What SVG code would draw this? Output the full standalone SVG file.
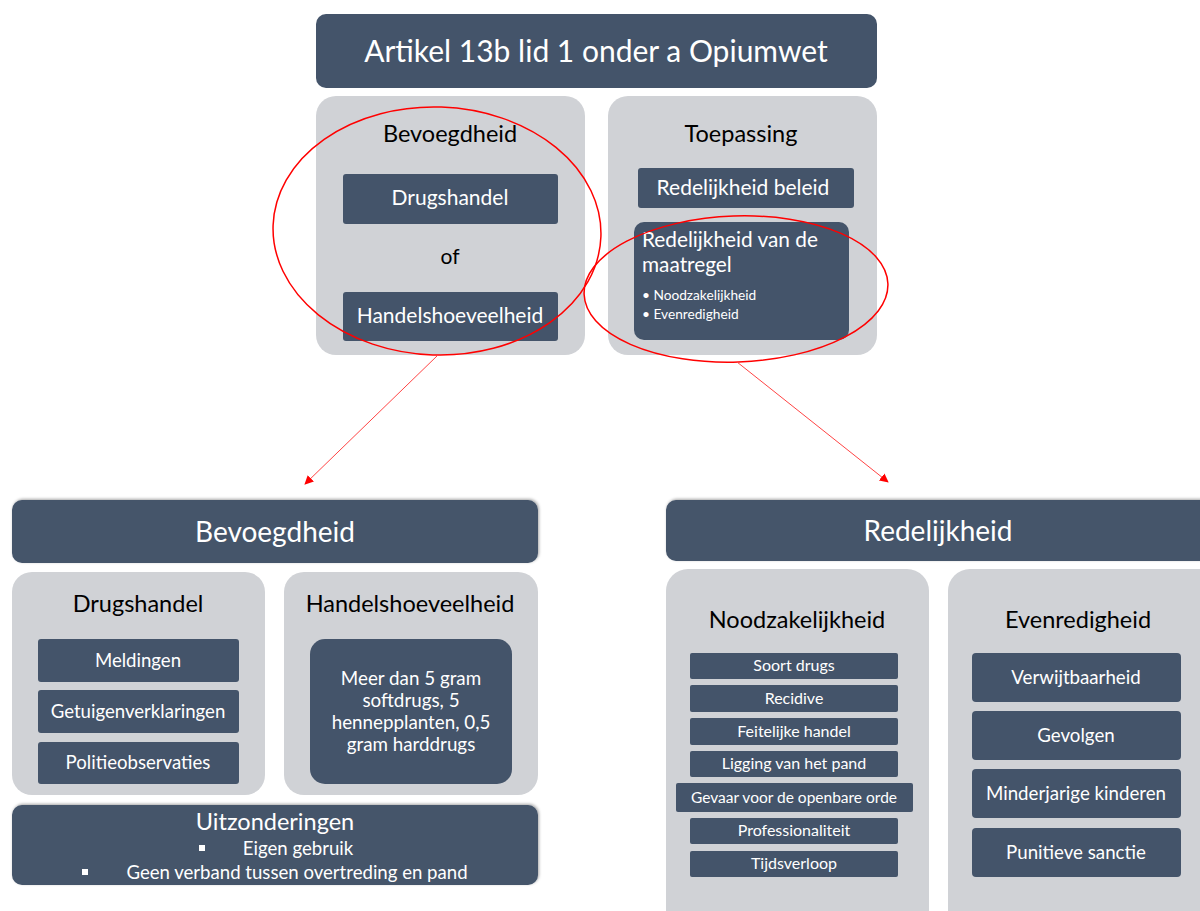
<svg xmlns="http://www.w3.org/2000/svg" width="1200" height="911" viewBox="0 0 1200 911">
<defs>
<style>
.dk{fill:#44546A}
.gr{fill:#D0D2D6}
.t{font-family:Lato,"Open Sans","Liberation Sans",sans-serif;text-anchor:middle}
.l{font-family:Lato,"Open Sans","Liberation Sans",sans-serif}
.w{fill:#FFFFFF}
.b{fill:#000000}
.ell{fill:none;stroke:#FF0000;stroke-width:1.5}
.arr{fill:none;stroke:#FF4444;stroke-width:1;marker-end:url(#ah)}
</style>
<marker id="ah" viewBox="0 0 10 10" refX="9" refY="5" markerWidth="9" markerHeight="9" orient="auto" markerUnits="userSpaceOnUse">
<path d="M0,0 L10,5 L0,10 z" fill="#FF0000"/>
</marker>
<filter id="sh" x="-5%" y="-20%" width="110%" height="140%">
<feDropShadow dx="1" dy="-1" stdDeviation="1.5" flood-color="#000" flood-opacity="0.35"/>
</filter>
</defs>
<rect width="1200" height="911" fill="#FFFFFF"/>

<g id="title">
<rect class="dk" x="316" y="14" width="561" height="74" rx="10"/>
<text class="t w" x="596" y="62" font-size="30">Artikel 13b lid 1 onder a Opiumwet</text>
</g>

<g id="bevoegdheid-top">
<rect class="gr" x="316" y="96" width="269" height="259" rx="20"/>
<text class="t b" x="450" y="142" font-size="23.5">Bevoegdheid</text>
<rect class="dk" x="343" y="174" width="215" height="50" rx="3"/>
<text class="t w" x="450" y="205" font-size="21">Drugshandel</text>
<text class="t b" x="450" y="264" font-size="21">of</text>
<rect class="dk" x="343" y="292" width="215" height="49" rx="3"/>
<text class="t w" x="450" y="323" font-size="21">Handelshoeveelheid</text>
</g>

<g id="toepassing-top">
<rect class="gr" x="608" y="96" width="269" height="259" rx="20"/>
<text class="t b" x="741" y="142" font-size="23.5">Toepassing</text>
<rect class="dk" x="638" y="168" width="216" height="40" rx="3"/>
<text class="t w" x="743" y="195" font-size="21">Redelijkheid beleid</text>
<rect class="dk" x="634" y="222" width="215" height="118" rx="10"/>
<text class="l w" x="642" y="247" font-size="20.8">Redelijkheid van de</text>
<text class="l w" x="642" y="272" font-size="20.8">maatregel</text>
<text class="l w" x="642" y="300" font-size="13.7">• Noodzakelijkheid</text>
<text class="l w" x="642" y="319" font-size="13.7">• Evenredigheid</text>
</g>

<g id="connectors">
<ellipse class="ell" cx="437" cy="231" rx="164" ry="124" transform="rotate(2 437 231)"/>
<ellipse class="ell" cx="736" cy="289" rx="152" ry="73" transform="rotate(-2 736 289)"/>
<line class="arr" x1="438" y1="355" x2="305" y2="484"/>
<line class="arr" x1="737" y1="362" x2="888" y2="482"/>
</g>

<g id="bevoegdheid">
<rect class="dk" x="12" y="500" width="526" height="63" rx="10" filter="url(#sh)"/>
<text class="t w" x="275" y="542" font-size="28">Bevoegdheid</text>
</g>

<g id="drugshandel">
<rect class="gr" x="12" y="572" width="253" height="223" rx="20"/>
<text class="t b" x="138" y="612" font-size="23.5">Drugshandel</text>
<rect class="dk" x="38" y="639" width="201" height="43" rx="3"/>
<text class="t w" x="138" y="667" font-size="18.6">Meldingen</text>
<rect class="dk" x="38" y="690" width="201" height="43" rx="3"/>
<text class="t w" x="138" y="718" font-size="18.6">Getuigenverklaringen</text>
<rect class="dk" x="38" y="742" width="201" height="42" rx="3"/>
<text class="t w" x="138" y="769" font-size="18.6">Politieobservaties</text>
</g>

<g id="handelshoeveelheid">
<rect class="gr" x="284" y="572" width="254" height="223" rx="20"/>
<text class="t b" x="410" y="612" font-size="23.5">Handelshoeveelheid</text>
<rect class="dk" x="310" y="639" width="202" height="145" rx="15"/>
<text class="t w" x="411" y="685" font-size="18.8">Meer dan 5 gram</text>
<text class="t w" x="411" y="707" font-size="18.8">softdrugs, 5</text>
<text class="t w" x="411" y="729" font-size="18.8">hennepplanten, 0,5</text>
<text class="t w" x="411" y="751" font-size="18.8">gram harddrugs</text>
</g>

<g id="uitzonderingen">
<rect class="dk" x="12" y="805" width="526" height="80" rx="10" filter="url(#sh)"/>
<text class="t w" x="275" y="830" font-size="23.5">Uitzonderingen</text>
<rect class="w" x="199" y="845" width="6" height="6"/>
<text class="t w" x="298" y="855" font-size="18.6">Eigen gebruik</text>
<rect class="w" x="82" y="869" width="6" height="6"/>
<text class="t w" x="297" y="879" font-size="18.6">Geen verband tussen overtreding en pand</text>
</g>

<g id="redelijkheid">
<rect class="dk" x="666" y="500" width="560" height="61" rx="10" filter="url(#sh)"/>
<text class="t w" x="938" y="541" font-size="28">Redelijkheid</text>
</g>

<g id="noodzakelijkheid">
<rect class="gr" x="666" y="569" width="263" height="370" rx="22"/>
<text class="t b" x="797" y="628" font-size="23.5">Noodzakelijkheid</text>
<rect class="dk" x="690" y="653" width="208" height="26" rx="2"/>
<text class="t w" x="794" y="671" font-size="16">Soort drugs</text>
<rect class="dk" x="690" y="685" width="208" height="27" rx="2"/>
<text class="t w" x="794" y="704" font-size="16">Recidive</text>
<rect class="dk" x="690" y="718" width="208" height="27" rx="2"/>
<text class="t w" x="794" y="737" font-size="16">Feitelijke handel</text>
<rect class="dk" x="690" y="751" width="208" height="26" rx="2"/>
<text class="t w" x="794" y="769" font-size="16">Ligging van het pand</text>
<rect class="dk" x="676" y="783" width="237" height="29" rx="2"/>
<text class="t w" x="794" y="803" font-size="15.5">Gevaar voor de openbare orde</text>
<rect class="dk" x="690" y="818" width="208" height="26" rx="2"/>
<text class="t w" x="794" y="836" font-size="16">Professionaliteit</text>
<rect class="dk" x="690" y="851" width="208" height="26" rx="2"/>
<text class="t w" x="794" y="869" font-size="16">Tijdsverloop</text>
</g>

<g id="evenredigheid">
<rect class="gr" x="948" y="569" width="272" height="370" rx="22"/>
<text class="t b" x="1078" y="628" font-size="23.5">Evenredigheid</text>
<rect class="dk" x="972" y="653" width="209" height="49" rx="4"/>
<text class="t w" x="1076" y="684" font-size="18.7">Verwijtbaarheid</text>
<rect class="dk" x="972" y="711" width="209" height="49" rx="4"/>
<text class="t w" x="1076" y="742" font-size="18.7">Gevolgen</text>
<rect class="dk" x="972" y="769" width="209" height="49" rx="4"/>
<text class="t w" x="1076" y="800" font-size="18.7">Minderjarige kinderen</text>
<rect class="dk" x="972" y="828" width="209" height="49" rx="4"/>
<text class="t w" x="1076" y="859" font-size="18.7">Punitieve sanctie</text>
</g>
</svg>
